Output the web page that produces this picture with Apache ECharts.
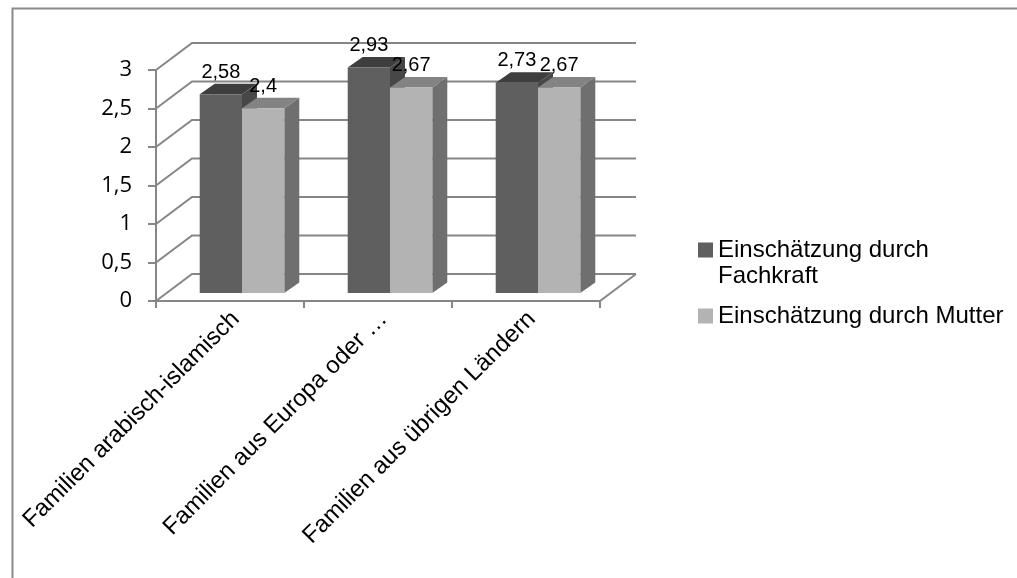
<!DOCTYPE html>
<html>
<head>
<meta charset="utf-8">
<script src="https://cdn.jsdelivr.net/npm/echarts@6/dist/echarts.min.js"></script>
<style>
  html, body { margin: 0; padding: 0; background: #ffffff; }
  #chart { width: 1017px; height: 578px; }
</style>
</head>
<body>
<div id="chart"></div>
<script>
// Chart data
const categories = ['Familien arabisch-islamisch', 'Familien aus Europa oder …', 'Familien aus übrigen Ländern'];
const seriesNames = ['Einschätzung durch Fachkraft', 'Einschätzung durch Mutter'];
const fachkraft = [2.58, 2.93, 2.73];
const mutter = [2.4, 2.67, 2.67];
const yTicks = [0, 0.5, 1, 1.5, 2, 2.5, 3];

// Pseudo-3D look: offsets of the back wall and of the bar plane, in pixels
const WALL_DX = 36, WALL_DY = -27;
const PLANE_DX = 12, PLANE_DY = -8;
const BAR_DX = 15, BAR_DY = -10.5;
const BAR_FRAC = 0.2857;
const GRID_COLOR = '#868686';
const LABEL_FONT = '"Liberation Sans", Arial, sans-serif';

const barColors = [
  { front: '#5f5f5f', top: '#3e3e3e', side: '#474747' },
  { front: '#b3b3b3', top: '#838383', side: '#6f6f6f' }
];

const fmt = v => String(v).replace('.', ',');

// Side wall and back wall lines at each value tick, plus right floor edge
function renderWall(params, api) {
  const v = api.value(1);
  const cs = params.coordSys;
  const y = api.coord([0, v])[1];
  const x0 = cs.x, x1 = cs.x + cs.width;
  const children = [{
    type: 'polyline',
    shape: { points: [[x0, y], [x0 + WALL_DX, y + WALL_DY], [x1 + WALL_DX, y + WALL_DY]] },
    style: { stroke: GRID_COLOR, lineWidth: 2, fill: null }
  }];
  if (v === 0) {
    children.push({
      type: 'line',
      shape: { x1: x1, y1: y, x2: x1 + WALL_DX, y2: y + WALL_DY },
      style: { stroke: GRID_COLOR, lineWidth: 2 }
    });
  }
  return { type: 'group', children: children };
}

// Box-shaped bar: front face, top face, right side face and value label
function makeBarRenderer(idx) {
  const col = barColors[idx];
  return function (params, api) {
    const i = api.value(0), v = api.value(1);
    const band = api.size([1, 0])[0];
    const w = band * BAR_FRAC;
    const top = api.coord([i, v]);
    const base = api.coord([i, 0]);
    const xl = top[0] + PLANE_DX + (idx === 0 ? -w : 0);
    const xr = xl + w;
    const yt = top[1] + PLANE_DY;
    const yb = base[1] + PLANE_DY;
    return {
      type: 'group',
      children: [
        { type: 'polygon', shape: { points: [[xr, yt], [xr + BAR_DX, yt + BAR_DY], [xr + BAR_DX, yb + BAR_DY], [xr, yb]] },
          style: { fill: col.side } },
        { type: 'polygon', shape: { points: [[xl, yt], [xr, yt], [xr + BAR_DX, yt + BAR_DY], [xl + BAR_DX, yt + BAR_DY]] },
          style: { fill: col.top } },
        { type: 'rect', shape: { x: xl, y: yt, width: w, height: yb - yt },
          style: { fill: col.front } },
        { type: 'text', z2: 100,
          style: { text: fmt(v), x: (xl + xr) / 2, y: yt - 22, align: 'center', verticalAlign: 'middle',
                   font: '20px ' + LABEL_FONT, fill: '#000' } }
      ]
    };
  };
}

const chart = echarts.init(document.getElementById('chart'), null, { renderer: 'canvas' });

const legendText = { fontFamily: LABEL_FONT, fontSize: 24, color: '#000', lineHeight: 26 };

chart.setOption({
  animation: false,
  backgroundColor: '#ffffff',
  graphic: [{
    type: 'rect', left: 10, top: 6, silent: true,
    shape: { width: 1100, height: 700 },
    style: { fill: null, stroke: '#8a8a8a', lineWidth: 2 }
  }],
  grid: { left: 156, right: 417, top: 70, bottom: 277, containLabel: false },
  legend: [
    {
      // leading empty line keeps the marker level with the first text line
      data: [seriesNames[0]], orient: 'vertical', left: 698, top: 211, padding: 0,
      icon: 'rect', itemWidth: 15, itemHeight: 15,
      formatter: n => '\n' + n.replace(' durch ', ' durch\n'),
      textStyle: legendText
    },
    {
      data: [seriesNames[1]], orient: 'vertical', left: 698, top: 303, padding: 0,
      icon: 'rect', itemWidth: 15, itemHeight: 15,
      textStyle: legendText
    }
  ],
  xAxis: {
    type: 'category',
    data: categories,
    boundaryGap: true,
    axisLine: { show: true, lineStyle: { color: GRID_COLOR, width: 2 } },
    axisTick: { show: true, length: 7, lineStyle: { color: GRID_COLOR, width: 2 } },
    axisLabel: {
      interval: 0, rotate: 45, margin: 20, color: '#000',
      fontFamily: LABEL_FONT, fontSize: 24,
      padding: [0, -8, 0, 0]
    },
    splitLine: { show: false }
  },
  yAxis: {
    type: 'value',
    min: 0, max: 3, interval: 0.5,
    axisLine: { show: true, lineStyle: { color: GRID_COLOR, width: 2 } },
    axisTick: { show: true, length: 8, lineStyle: { color: GRID_COLOR, width: 2 } },
    axisLabel: {
      margin: 24, color: '#000', fontFamily: '"Open Sans", sans-serif', fontSize: 22,
      formatter: v => fmt(v)
    },
    splitLine: { show: false }
  },
  series: [
    {
      type: 'custom', name: 'wall', silent: true, z: 1,
      renderItem: renderWall,
      data: yTicks.map(v => [0, v])
    },
    {
      type: 'custom', name: seriesNames[0], z: 3,
      itemStyle: { color: barColors[0].front },
      renderItem: makeBarRenderer(0),
      data: fachkraft.map((v, i) => [i, v])
    },
    {
      type: 'custom', name: seriesNames[1], z: 4,
      itemStyle: { color: barColors[1].front },
      renderItem: makeBarRenderer(1),
      data: mutter.map((v, i) => [i, v])
    }
  ]
});
</script>
</body>
</html>
